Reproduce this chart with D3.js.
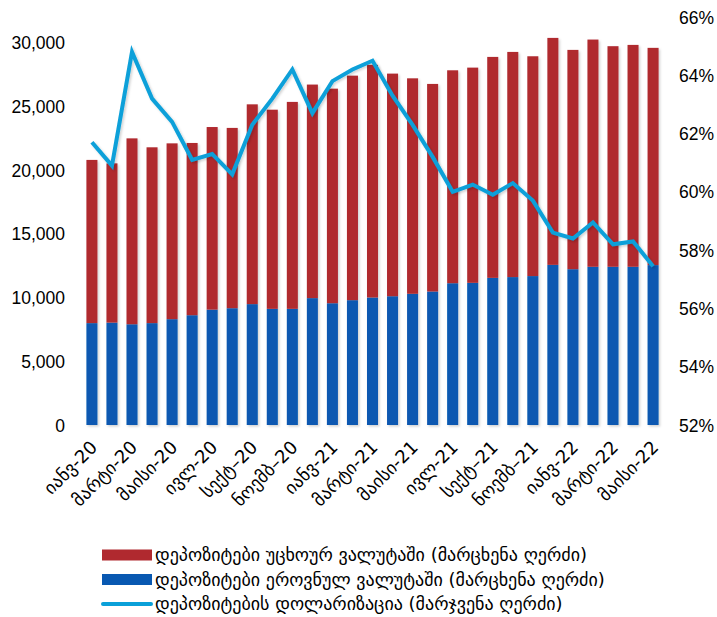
<!DOCTYPE html>
<meta charset="utf-8">
<style>
body { margin: 0; background: #fff; }
svg text { font-family: "Liberation Sans", Arial, "DejaVu Sans", sans-serif; fill: #000; }
.xlab, .leg { font-family: "DejaVu Sans", sans-serif; }
</style>
<body>
<script src="https://d3js.org/d3.v7.min.js"></script>
<script>

// months Jan-20 .. May-22
var months = ["იანვ-20","თებ-20","მარტი-20","აპრ-20","მაისი-20","ივნ-20","ივლ-20","აგვ-20","სექტ–20","ოქტ-20","ნოემბ–20","დეკ-20",
              "იანვ-21","თებ-21","მარტი-21","აპრ-21","მაისი-21","ივნ-21","ივლ-21","აგვ-21","სექტ–21","ოქტ-21","ნოემბ–21","დეკ-21",
              "იანვ-22","თებ-22","მარტი-22","აპრ-22","მაისი-22"];

// deposits in national currency (blue, bottom)
var national = [7990, 8030, 7900, 7990, 8300, 8610, 9050, 9160, 9480, 9110, 9110, 9950,
                9550, 9790, 10000, 10100, 10290, 10470, 11120, 11150, 11540, 11600, 11680, 12560,
                12220, 12410, 12410, 12410, 12540];

// total deposits (top of the red part)
var total = [20790, 20520, 22480, 21780, 22090, 22120, 23370, 23300, 25150, 24730, 25340, 26700,
             26380, 27400, 28250, 27560, 27190, 26750, 27820, 28030, 28870, 29260, 28920, 30360,
             29420, 30230, 29710, 29810, 29580];

// deposits in foreign currency (red, on top)
var foreign = total.map(function(t, i) { return t - national[i]; });

// dollarization, %
var dollarization = [61.7, 60.9, 64.8, 63.2, 62.4, 61.1, 61.3, 60.6, 62.3, 63.2, 64.2, 62.7,
                     63.8, 64.2, 64.5, 63.3, 62.3, 61.2, 60.0, 60.25, 59.9, 60.3, 59.7, 58.6,
                     58.4, 58.95, 58.2, 58.3, 57.45];

var leftTicks = [0, 5000, 10000, 15000, 20000, 25000, 30000];
var rightTicks = [52, 54, 56, 58, 60, 62, 64, 66];

var legendNames = ["დეპოზიტები უცხოურ ვალუტაში (მარცხენა ღერძი)",
                   "დეპოზიტები ეროვნულ ვალუტაში (მარცხენა ღერძი)",
                   "დეპოზიტების დოლარიზაცია (მარჯვენა ღერძი)"];

var cRed = "#b0292f", cBlue = "#0858b1", cLine = "#0aa0d9";

var W = 717, H = 617;
var pLeft = 82, pRight = 663, pTop = 17, pBottom = 425;

var svg = d3.select("body").append("svg")
    .attr("width", W).attr("height", H);

var x = d3.scaleBand().domain(months).range([pLeft, pRight]).paddingInner(0.45).paddingOuter(0.22);
var y = d3.scaleLinear().domain([0, 32000]).range([pBottom, pTop]);
var y2 = d3.scaleLinear().domain([52, 66]).range([pBottom, pTop]);

var defs = svg.append("defs");
var f = defs.append("filter").attr("id", "sh").attr("x", "-30%").attr("y", "-10%").attr("width", "160%").attr("height", "130%");
f.append("feDropShadow").attr("dx", 1.5).attr("dy", 1.5).attr("stdDeviation", 1.2)
  .attr("flood-color", "#000").attr("flood-opacity", 0.18);

// baseline
svg.append("line")
    .attr("x1", pLeft).attr("x2", pRight)
    .attr("y1", pBottom + 1).attr("y2", pBottom + 1)
    .attr("stroke", "#d9d9d9").attr("stroke-width", 2)
    .attr("filter", "url(#sh)");

// stacked bars
var bars = svg.append("g").attr("filter", "url(#sh)");
bars.selectAll(".nat").data(months).enter().append("rect")
    .attr("x", function(d) { return x(d); })
    .attr("width", x.bandwidth())
    .attr("y", function(d, i) { return y(national[i]); })
    .attr("height", function(d, i) { return y(0) - y(national[i]); })
    .attr("fill", cBlue);
bars.selectAll(".for").data(months).enter().append("rect")
    .attr("x", function(d) { return x(d); })
    .attr("width", x.bandwidth())
    .attr("y", function(d, i) { return y(national[i] + foreign[i]); })
    .attr("height", function(d, i) { return y(national[i]) - y(national[i] + foreign[i]); })
    .attr("fill", cRed);

// dollarization line
var line = d3.line()
    .x(function(d, i) { return x(months[i]) + x.bandwidth() / 2; })
    .y(function(d) { return y2(d); });
svg.append("path")
    .datum(dollarization)
    .attr("d", line)
    .attr("fill", "none")
    .attr("stroke", cLine)
    .attr("stroke-width", 4)
    .attr("stroke-linejoin", "miter")
    .attr("filter", "url(#sh)");

// left axis
var ga = svg.append("g").attr("transform", "translate(" + (pLeft - 17) + ",0)")
    .call(d3.axisLeft(y).tickValues(leftTicks).tickSize(0).tickPadding(0).tickFormat(d3.format(",")));
ga.select(".domain").remove();
ga.selectAll("text").style("font-size", "17.5px").attr("dy", "0.35em");

// right axis
var gb = svg.append("g").attr("transform", "translate(" + (pRight + 16) + ",0)")
    .call(d3.axisRight(y2).tickValues(rightTicks).tickSize(0).tickPadding(0).tickFormat(function(d) { return d + "%"; }));
gb.select(".domain").remove();
gb.selectAll("text").style("font-size", "17.5px").attr("dy", "0.35em");

// x labels, every second month
svg.append("g").selectAll("text")
    .data(months.filter(function(d, i) { return i % 2 === 0; }))
    .enter().append("text")
    .attr("class", "xlab")
    .attr("transform", function(d) {
        return "translate(" + (x(d) + x.bandwidth() / 2 + 2) + "," + (pBottom + 19) + ") rotate(-45)";
    })
    .attr("text-anchor", "end")
    .attr("dy", "0.35em")
    .style("font-size", "18px")
    .text(function(d) { return d; });

// legend
var leg = svg.append("g").attr("transform", "translate(102,555)");
legendNames.forEach(function(n, i) {
    var g = leg.append("g").attr("transform", "translate(0," + (i * 24.5) + ")");
    if (i < 2) {
        g.append("rect").attr("x", 0).attr("y", -5.5).attr("width", 50).attr("height", 11)
          .attr("fill", i === 0 ? cRed : cBlue);
    } else {
        g.append("line").attr("x1", 1).attr("x2", 49).attr("y1", 0).attr("y2", 0)
          .attr("stroke", cLine).attr("stroke-width", 4).attr("stroke-linecap", "round");
    }
    g.append("text").attr("class", "leg").attr("x", 53).attr("dy", "0.35em")
      .style("font-size", "18px").text(n);
});

</script>
</body>
